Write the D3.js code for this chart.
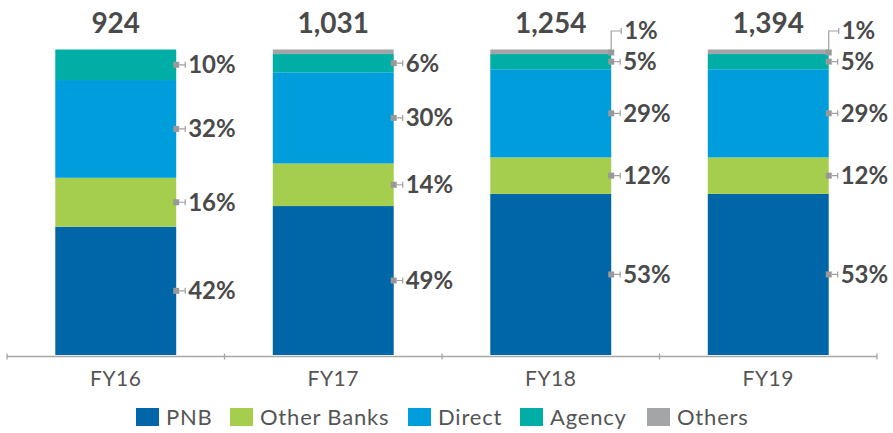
<!DOCTYPE html>
<html lang="en">
<head>
    <meta charset="UTF-8">
    <title>Business mix</title>
    <style>
        body { margin: 0; background: #fff; }
        text { font-family: Lato, "Open Sans", sans-serif; }
    </style>
</head>
<body>
    <div id="chart"></div>
    <script src="https://d3js.org/d3.v7.min.js"></script>
    <script>
        // data (shares in %)
        const years      = ["FY16", "FY17", "FY18", "FY19"];
        const totals     = [924, 1031, 1254, 1394];
        const pnb        = [42, 49, 53, 53];
        const otherBanks = [16, 14, 12, 12];
        const direct     = [32, 30, 29, 29];
        const agency     = [10, 6, 5, 5];
        const others     = [0, 1.5, 1.5, 1.5];
        const othersLabel = ["", "", "1%", "1%"];

        const seriesNames = ["PNB", "Other Banks", "Direct", "Agency", "Others"];
        const colors      = ["#0066a8", "#a6ce4e", "#009ddc", "#00aea6", "#a3a5a7"];
        const seriesVals  = [pnb, otherBanks, direct, agency, others];

        const W = 893, H = 433;
        const svg = d3.select("#chart").append("svg").attr("width", W).attr("height", H);

        const x = d3.scaleBand().domain(years).range([7, 877]).paddingInner(0.444).paddingOuter(0.222);
        const y = d3.scaleLinear().domain([0, 100]).range([355, 49.5]);
        const color = d3.scaleOrdinal().domain(seriesNames).range(colors);

        const rows = years.map((yr, i) => {
            const r = { year: yr };
            seriesNames.forEach((s, k) => r[s] = seriesVals[k][i]);
            return r;
        });
        const stack = d3.stack().keys(seriesNames).offset(d3.stackOffsetExpand)(rows);

        // bars
        svg.append("g").selectAll("g")
            .data(stack).enter().append("g")
            .attr("fill", d => color(d.key))
            .selectAll("rect")
            .data(d => d).enter().append("rect")
            .attr("x", d => x(d.data.year))
            .attr("width", x.bandwidth())
            .attr("y", d => y(d[1] * 100))
            .attr("height", d => y(d[0] * 100) - y(d[1] * 100));

        // axis
        const axisY = 356.5;
        const ax = svg.append("g").attr("stroke", "#a6a6a6").attr("stroke-width", 1.3);
        ax.append("line").attr("x1", 7).attr("x2", 877).attr("y1", axisY).attr("y2", axisY);
        const edges = years.map(d => x(d) - x.step() * x.paddingInner() / 2).concat([877]);
        edges[0] = 7;
        ax.selectAll(".tk").data(edges).enter().append("line")
            .attr("x1", d => d).attr("x2", d => d).attr("y1", axisY - 3).attr("y2", axisY + 3);

        svg.append("g").selectAll("text").data(years).enter().append("text")
            .attr("x", d => x(d) + x.bandwidth() / 2).attr("y", 386)
            .attr("text-anchor", "middle").attr("font-size", 21).attr("fill", "#555")
            .attr("letter-spacing", 0.5)
            .text(d => d);

        // totals
        svg.append("g").selectAll("text").data(years).enter().append("text")
            .attr("x", d => x(d) + x.bandwidth() / 2).attr("y", 33)
            .attr("text-anchor", "middle").attr("font-size", 28).attr("font-weight", 700)
            .attr("fill", "#4a4a4a")
            .text((d, i) => d3.format(",")(totals[i]));

        // data labels
        const lab = svg.append("g");
        stack.forEach((s, k) => {
            s.forEach((d, i) => {
                const v = seriesVals[k][i];
                const xr = x(d.data.year) + x.bandwidth();
                if (s.key === "Others") {
                    if (!othersLabel[i]) return;
                    const y0 = y(d[1] * 100) + 1, ly = 31;
                    lab.append("rect").attr("x", xr - 3).attr("y", y0 - 1).attr("width", 6).attr("height", 6).attr("fill", "#999");
                    lab.append("path").attr("d", `M${xr},${y0} V${ly} H${xr + 10} M${xr + 10},${ly - 3} V${ly + 3}`)
                        .attr("fill", "none").attr("stroke", "#a0a0a0").attr("stroke-width", 1.2);
                    lab.append("text").attr("x", xr + 13).attr("y", ly).attr("dy", "0.35em")
                        .attr("font-size", 24).attr("font-weight", 700).attr("fill", "#4a4a4a").text(othersLabel[i]);
                    return;
                }
                const cy = (y(d[0] * 100) + y(d[1] * 100)) / 2;
                lab.append("rect").attr("x", xr - 3).attr("y", cy - 3).attr("width", 6).attr("height", 6).attr("fill", "#999");
                lab.append("path").attr("d", `M${xr + 3},${cy} H${xr + 9} M${xr + 9},${cy - 3} V${cy + 3}`)
                    .attr("fill", "none").attr("stroke", "#a0a0a0").attr("stroke-width", 1.2);
                lab.append("text").attr("x", xr + 12).attr("y", cy).attr("dy", "0.35em")
                    .attr("font-size", 24).attr("font-weight", 700).attr("fill", "#4a4a4a").text(v + "%");
            });
        });

        // legend
        const legX = [136, 230, 408, 520, 647];
        const leg = svg.append("g").selectAll("g").data(seriesNames).enter().append("g")
            .attr("transform", (d, i) => `translate(${legX[i]},408)`);
        leg.append("rect").attr("width", 23).attr("height", 18).attr("fill", d => color(d));
        leg.append("text").attr("x", 30).attr("y", 9).attr("dy", "0.36em")
            .attr("font-size", 22).attr("letter-spacing", 0.8).attr("fill", "#555").text(d => d);
    </script>
</body>
</html>
